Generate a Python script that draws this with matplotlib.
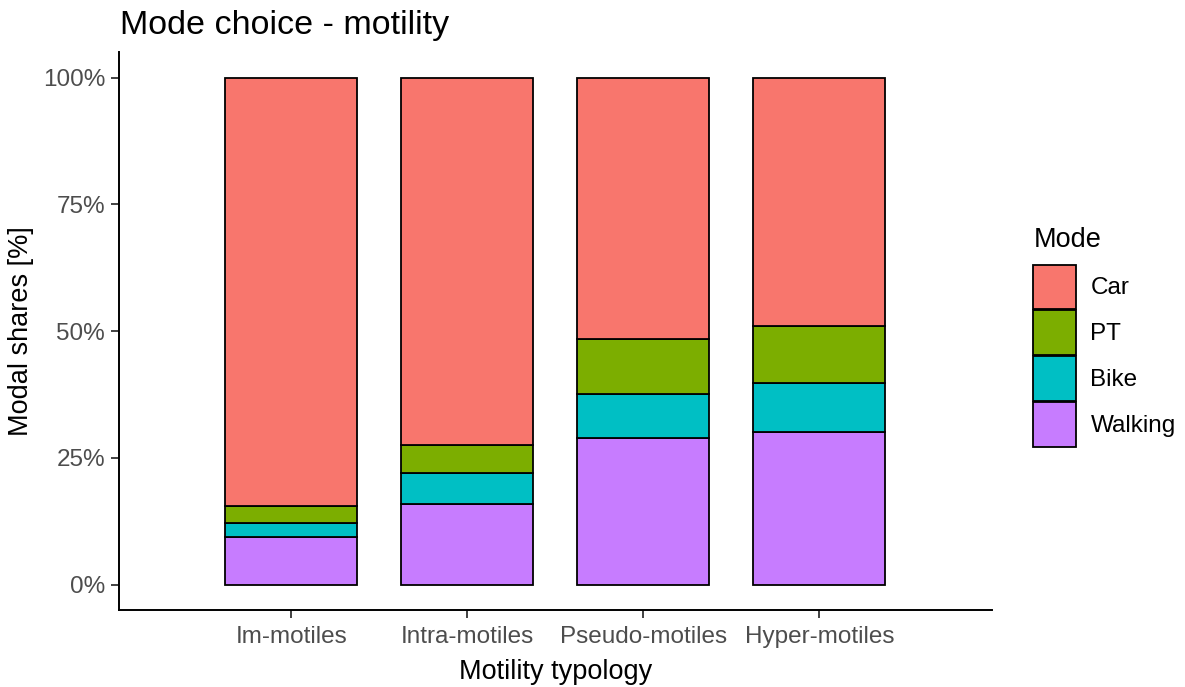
import matplotlib
matplotlib.use('Agg')
import matplotlib.pyplot as plt
from matplotlib.patches import Patch
from matplotlib.ticker import FuncFormatter

plt.rcParams['font.family'] = ['Liberation Sans', 'DejaVu Sans']

# shares per motility type (fractions)
types = ['Im-motiles', 'Intra-motiles', 'Pseudo-motiles', 'Hyper-motiles']
walking = [0.095, 0.159, 0.289, 0.301]
bike = [0.026, 0.062, 0.087, 0.096]
pt = [0.035, 0.054, 0.109, 0.114]
car = [1 - w - b - p for w, b, p in zip(walking, bike, pt)]

modes = ['Car', 'PT', 'Bike', 'Walking']
colors = {'Car': '#F8766D', 'PT': '#7CAE00', 'Bike': '#00BFC4', 'Walking': '#C77CFF'}

fig = plt.figure(figsize=(11.85, 6.87), dpi=100)
ax = fig.add_axes([0.1004, 0.112, 0.7366, 0.812])

x = list(range(1, len(types) + 1))
bottom = [0.0] * len(types)
for name, vals in [('Walking', walking), ('Bike', bike), ('PT', pt), ('Car', car)]:
    ax.bar(x, vals, width=0.75, bottom=bottom, color=colors[name],
           edgecolor='black', linewidth=1.3)
    bottom = [b + v for b, v in zip(bottom, vals)]

ax.set_xlim(0.02, 4.98)
ax.set_ylim(-0.05, 1.05)
ax.set_xticks(x)
ax.set_xticklabels(types)
ax.set_yticks([0, 0.25, 0.5, 0.75, 1.0])
ax.yaxis.set_major_formatter(FuncFormatter(lambda v, p: f'{v*100:.0f}%'))
ax.tick_params(axis='both', labelsize=17.5, labelcolor='#4D4D4D', color='#333333',
               length=6, width=1.3, pad=4)
ax.tick_params(axis='x', pad=5.5)
for s in ['top', 'right']:
    ax.spines[s].set_visible(False)
for s in ['left', 'bottom']:
    ax.spines[s].set_linewidth(1.4)

ax.set_xlabel('Motility typology', fontsize=19.5, labelpad=8)
ax.set_ylabel('Modal shares [%]', fontsize=19.5, labelpad=6)
fig.text(0.101, 0.941, 'Mode choice - motility', fontsize=24.5, ha='left', va='bottom')

handles = [Patch(facecolor=colors[m], edgecolor='black', linewidth=1.3) for m in modes]
leg = fig.legend(handles, modes, loc='upper left', bbox_to_anchor=(0.872, 0.669),
                 frameon=False, fontsize=17.5, title='Mode', title_fontsize=19.5,
                 handlelength=1.75, handleheight=2.45, labelspacing=0.05,
                 handletextpad=0.6, borderaxespad=0, borderpad=0)
leg._legend_box.align = 'left'
leg._legend_box.sep = 8  # gap between legend title and keys

fig.savefig('out.png', dpi=100)
